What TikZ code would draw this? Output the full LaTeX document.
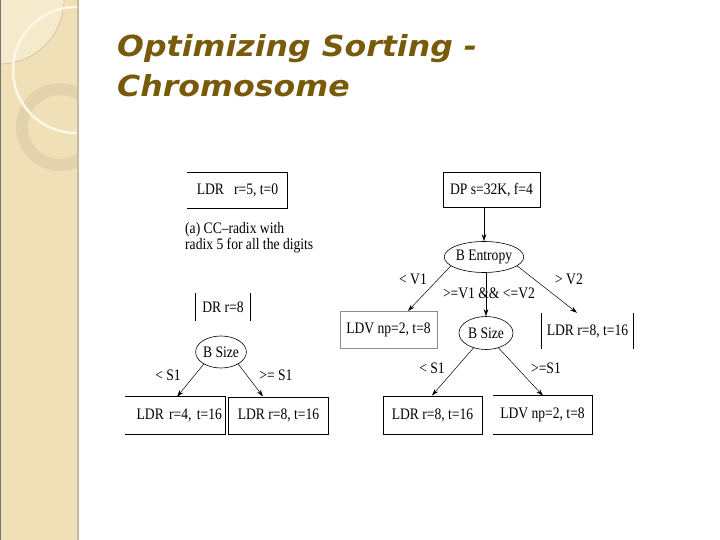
\documentclass[tikz,border=0pt]{standalone}
\usepackage{fontspec}
\usetikzlibrary{shapes.geometric,arrows.meta}
\setmainfont{Liberation Serif}
\newfontfamily\titlefont[FakeStretch=1.09]{DejaVu Sans}
\newfontfamily\dfont[FakeStretch=0.85]{Liberation Serif}
\definecolor{titlecol}{RGB}{120,90,10}
\definecolor{stripcol}{RGB}{240,224,183}
\definecolor{stripedge}{RGB}{200,186,156}
\definecolor{disccol}{RGB}{245,234,204}
\definecolor{disclinecol}{RGB}{205,190,155}
\definecolor{ringcol}{RGB}{226,211,172}
\definecolor{arccol}{RGB}{252,248,232}
\definecolor{ldvgray}{RGB}{140,140,140}
\tikzset{
  every node/.style={inner sep=0pt, font=\dfont\fontsize{16}{16}\selectfont},
  bx/.style 2 args={rectangle, minimum width=#1pt, minimum height=#2pt},
  edge/.style={line width=1pt, black},
  ell/.style={ellipse, draw, line width=0.6pt},
  arr/.style={-{Stealth[length=7pt,width=4.5pt]}, line width=0.5pt},
  lbl/.style={},
}
\begin{document}
\begin{tikzpicture}[x=1pt,y=-1pt]
\useasboundingbox (0,0) rectangle (720,540);
\fill[white] (0,0) rectangle (720,540);
% left decorative strip
\begin{scope}
  \clip (0,0) rectangle (77,540);
  \fill[stripcol] (0,0) rectangle (77,540);
  \fill[disccol] (0,0) circle (64);
  \draw[disclinecol, line width=0.6pt] (0,0) circle (64);
  \fill[ringcol, even odd rule] (60,127) circle (44) (60,127) circle (32);
  \draw[arccol, line width=2.5pt] (76,70) circle (63);
\end{scope}
\draw[stripedge, line width=2pt] (78,0) -- (78,540);
\draw[black!55, line width=1pt] (0.5,0) -- (0.5,540);
% title
\node[anchor=base west, font=\titlefont\bfseries\itshape\fontsize{29}{29}\selectfont, text=titlecol] (t1) at (117,57) {Optimizing Sorting -};
\node[anchor=base west, font=\titlefont\bfseries\itshape\fontsize{29}{29}\selectfont, text=titlecol] (t2) at (117,97) {Chromosome};
% ---- left part ----
\node[bx={100}{35}] (n1) at (237.5,190.5) {LDR\ \ \ r=5, t=0};
\draw[edge] (n1.north west) -- (n1.north east) -- (n1.south east) -- (n1.south west);
\node[anchor=north west, align=left] (cap) at (185,222) {(a) CC–radix with\\radix 5 for all the digits};
\node[bx={54}{28}] (n2) at (223,307) {DR r=8};
\draw[edge] (n2.north west) -- (n2.south west);
\draw[edge] (n2.north east) -- (n2.south east);
\node[ell, minimum width=48pt, minimum height=32pt] (bs1) at (221,352) {B Size};
\node[bx={100}{37}, text width=94pt, align=right] (b3) at (175,415.5) {LDR r=4, t=16};
\draw[edge] (b3.north west) -- (b3.north east) -- (b3.south east) -- (b3.south west);
\node[bx={100}{37}, draw, line width=1pt] (b4) at (278.5,415.5) {LDR r=8, t=16};
\draw[arr] (bs1.215) -- ([xshift=2pt]b3.north);
\draw[arr] (bs1.325) -- ([xshift=-15.5pt]b4.north);
\node[lbl] (l1) at (168,375) {< S1};
\node[lbl] (l2) at (276,375) {>= S1};
% ---- right part ----
\node[bx={97}{35}, draw, line width=1pt] (dp) at (491.5,190.5) {DP s=32K, f=4};
\node[ell, minimum width=74pt, minimum height=31pt] (be) at (484,257) {B Entropy};
\draw[arr] (dp.south -| be.north) -- (be.north);
\node[bx={97}{37}, draw=ldvgray, line width=1pt] (ldv) at (388.5,330) {LDV np=2, t=8};
\node[ell, minimum width=54pt, minimum height=33pt] (bs2) at (486,333) {B Size};
\node[bx={91}{36}] (ldr2) at (587.5,331) {LDR r=8, t=16};
\draw[edge] (ldr2.north west) -- (ldr2.south west);
\draw[edge] (ldr2.north east) -- (ldr2.south east);
\draw[arr] (be.195) -- ([xshift=19.5pt]ldv.north);
\draw[arr] (be.345) -- ([xshift=-10.5pt]ldr2.north);
\draw[arr] (be.south -| bs2.north) -- (bs2.north);
\node[lbl] (v1) at (413,279) {< V1};
\node[lbl] (v2) at (569,279) {> V2};
\node[lbl] (vm) at (489,293) {>=V1 \&\& <=V2};
\node[bx={99}{38}, draw, line width=1pt] (b5) at (432.5,415) {LDR r=8, t=16};
\node[bx={99}{38}] (b6) at (542.5,415) {LDV np=2, t=8};
\draw[edge] (b6.north west) -- (b6.north east) -- (b6.south east) -- (b6.south west);
\draw[arr] (bs2.230) -- ([xshift=-0.5pt]b5.north);
\draw[arr] (bs2.310) -- ([xshift=0.5pt]b6.north);
\node[lbl] (s1) at (432,368) {< S1};
\node[lbl] (s2) at (546,368) {>=S1};
\end{tikzpicture}
\end{document}
